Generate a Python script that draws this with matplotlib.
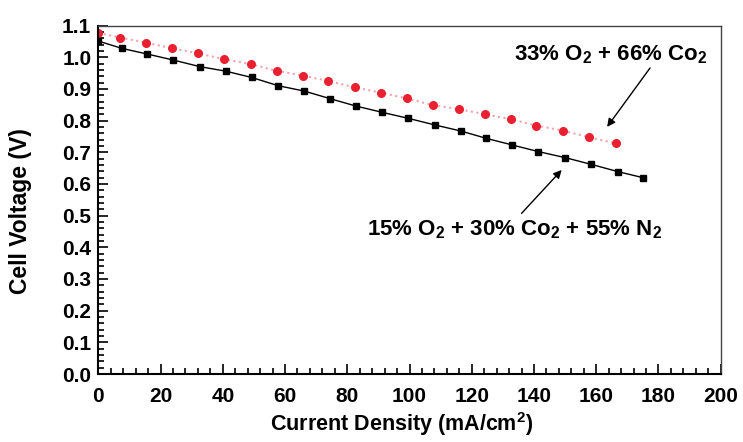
import matplotlib
matplotlib.use('Agg')
import matplotlib.pyplot as plt
from matplotlib.ticker import MultipleLocator, FormatStrFormatter

plt.rcParams['font.family'] = ['Liberation Sans', 'DejaVu Sans']
plt.rcParams['mathtext.fontset'] = 'custom'
plt.rcParams['mathtext.rm'] = 'Liberation Sans:bold'
plt.rcParams['mathtext.it'] = 'Liberation Sans:bold'
plt.rcParams['mathtext.bf'] = 'Liberation Sans:bold'

# 15% O2 + 30% CO2 + 55% N2 (black squares)
mix_x = [0, 7.5, 15.7, 24.1, 32.7, 40.9, 49.3, 57.8, 66.2, 74.5, 82.7,
         91.2, 99.6, 108.2, 116.5, 124.6, 133.0, 141.4, 150.0, 158.3, 166.9, 174.9]
mix_v = [1.051, 1.028, 1.010, 0.991, 0.970, 0.956, 0.936, 0.910, 0.893, 0.869, 0.846,
         0.826, 0.807, 0.786, 0.767, 0.744, 0.723, 0.702, 0.683, 0.662, 0.639, 0.620]

# 33% O2 + 66% CO2 (red circles)
o2_x = [0, 7.0, 15.3, 23.8, 32.1, 40.4, 49.0, 57.3, 65.7, 73.9, 82.4,
        90.8, 99.1, 107.4, 115.9, 124.2, 132.5, 140.8, 149.4, 157.7, 166.2]
o2_v = [1.077, 1.062, 1.046, 1.028, 1.012, 0.994, 0.978, 0.957, 0.942, 0.925, 0.905,
        0.888, 0.870, 0.849, 0.836, 0.820, 0.804, 0.784, 0.768, 0.747, 0.728]

label_o2 = r'33% O$_2$ + 66% Co$_2$'
label_mix = r'15% O$_2$ + 30% Co$_2$ + 55% N$_2$'

fig = plt.figure(figsize=(7.43, 4.42), dpi=100, facecolor='white')
ax = fig.add_axes([0.1323, 0.1538, 0.8377, 0.7885])

ax.plot(o2_x, o2_v, linestyle=':', color='#f4a3ad', linewidth=1.5,
        marker='o', markersize=5.5, markerfacecolor='#e8202f', markeredgecolor='#e8202f')
ax.plot(mix_x, mix_v, linestyle='-', color='black', linewidth=1.0,
        marker='s', markersize=5, markerfacecolor='black', markeredgecolor='black')

ax.set_xlim(0, 200)
ax.set_ylim(0, 1.1)
ax.xaxis.set_major_locator(MultipleLocator(20))
ax.xaxis.set_minor_locator(MultipleLocator(4))
ax.yaxis.set_major_locator(MultipleLocator(0.1))
ax.yaxis.set_minor_locator(MultipleLocator(0.02))
ax.yaxis.set_major_formatter(FormatStrFormatter('%.1f'))

ax.tick_params(which='both', direction='in', top=False, right=False,
               labelsize=15, width=1.2)
ax.tick_params(which='major', length=7)
ax.tick_params(axis='x', which='major', pad=9)
ax.tick_params(axis='y', which='major', pad=5)
ax.tick_params(which='minor', length=4)
for lab in ax.get_xticklabels() + ax.get_yticklabels():
    lab.set_fontweight('bold')

for side in ['left', 'bottom']:
    ax.spines[side].set_linewidth(1.5)
for side in ['top', 'right']:
    ax.spines[side].set_linewidth(1.0)
    ax.spines[side].set_color('#444444')

ax.set_xlabel(r'Current Density (mA/cm$^2$)', fontsize=15.5, fontweight='bold')
ax.xaxis.set_label_coords(0.488, -0.103)
ax.set_ylabel('Cell Voltage (V)', fontsize=16.5, fontweight='bold')
ax.yaxis.set_label_coords(-0.106, 0.468)

arrow = dict(arrowstyle='-|>', color='black', lw=1.0,
             shrinkA=0, shrinkB=0, mutation_scale=12)
ax.text(195.6, 1.007, label_o2, fontsize=16, fontweight='bold', ha='right', va='center')
ax.annotate('', xy=(163.5, 0.78), xytext=(177.3, 0.966), arrowprops=arrow)
ax.text(86.4, 0.455, label_mix, fontsize=16, fontweight='bold', ha='left', va='center')
ax.annotate('', xy=(148.9, 0.644), xytext=(136.0, 0.507), arrowprops=arrow)

fig.savefig('out.png', dpi=100, facecolor='white')
